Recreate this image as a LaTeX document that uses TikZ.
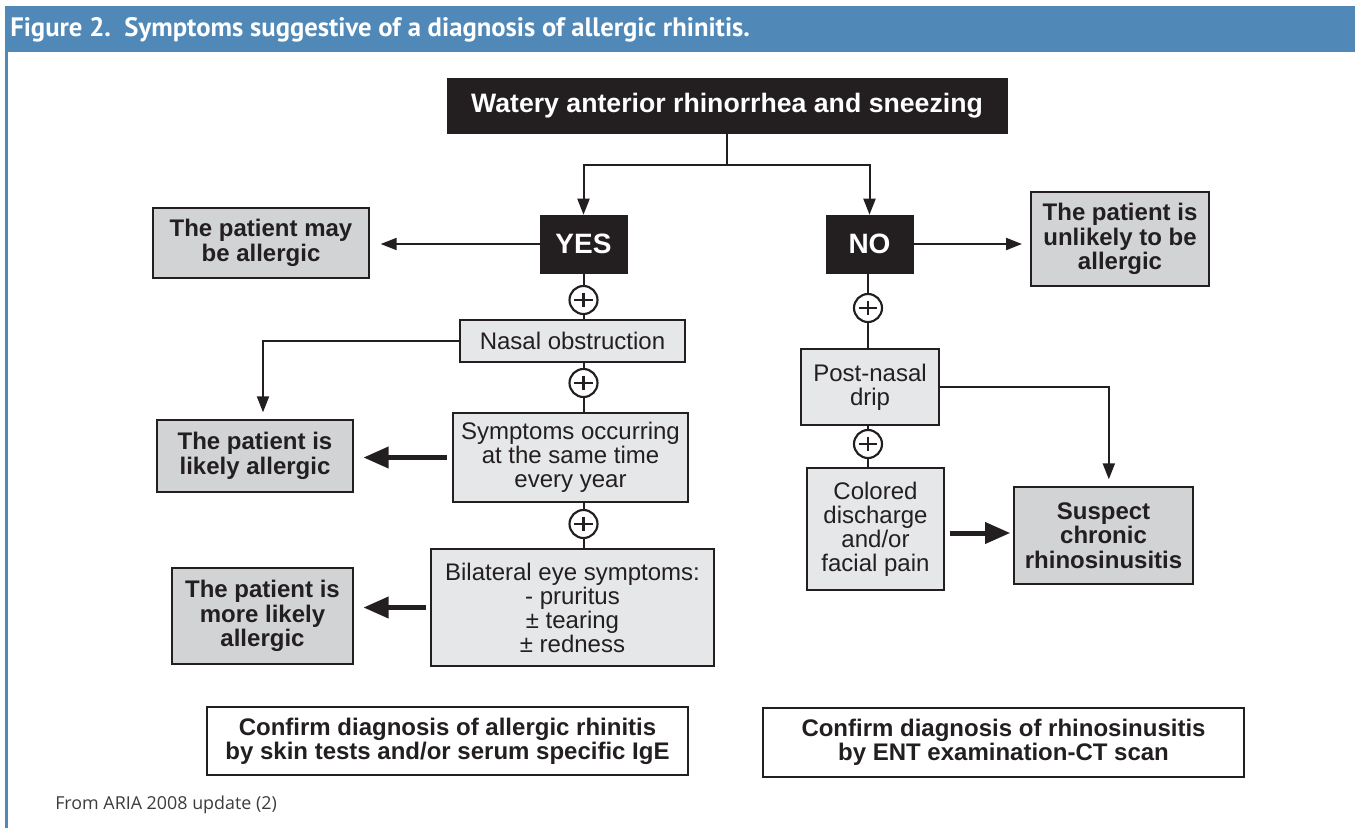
\documentclass[tikz,border=0pt]{standalone}
\usepackage{fontspec}
\setmainfont{Liberation Sans}
\newfontfamily\headfont{PT Sans}
\newfontfamily\notefont{Open Sans}
\usepackage{tikz}
\usetikzlibrary{arrows.meta,calc}
\definecolor{ink}     {HTML}{231F20}
\definecolor{band}    {HTML}{5088B8}
\definecolor{boxlight}{HTML}{E6E7E8}
\definecolor{boxgray} {HTML}{D1D3D4}
\definecolor{notegray}{HTML}{3C3C3C}

\tikzset{
  darkbox/.style={fill=ink, draw=ink, text=white, inner sep=0pt,
                  font=\bfseries\fontsize{21}{21}\selectfont},
  findbox/.style={fill=boxlight, draw=ink, line width=1.5pt, text=ink, align=center,
                  inner sep=0pt, font=\fontsize{18}{18}\selectfont},
  outbox/.style={fill=boxgray, draw=ink, line width=1.5pt, text=ink, align=center,
                 inner sep=0pt, font=\bfseries\fontsize{18}{18.4}\selectfont},
  confbox/.style={fill=white, draw=ink, line width=1.5pt, text=ink, align=center,
                  inner sep=0pt, font=\bfseries\fontsize{18}{18}\selectfont},
  pluscirc/.style={circle, draw=ink, fill=white, line width=1.6pt, minimum size=21pt,
                   inner sep=0pt,
                   path picture={\draw[ink, line width=1.7pt]
                     ($(path picture bounding box.center)+(-7pt,0)$) -- ++(14pt,0)
                     ($(path picture bounding box.center)+(0,5.5pt)$) -- ++(0,-11pt);}},
  link/.style={draw=ink, line width=1.5pt},
  arrowline/.style={link, -{Triangle[length=12pt,width=9pt]}},
  bigarrow/.style={draw=ink, line width=3.75pt, -{Triangle[length=19pt,width=15.5pt]}},
}

\begin{document}
\begin{tikzpicture}[x=0.75pt,y=-0.75pt]
  \useasboundingbox (0,0) rectangle (1355,828);

  % header band and frame
  \fill[band] (5,6) rectangle (1355,52);
  \draw[band, line width=1.9pt] (6.5,52) -- (6.5,828);
  \node[anchor=west, text=white, inner sep=0pt,
        font=\headfont\bfseries\fontsize{20}{20}\selectfont] (title) at (10,30)
    {Figure 2.\ \ Symptoms suggestive of a diagnosis of allergic rhinitis.};

  % main column
  \node[darkbox, minimum width=420pt, minimum height=41.25pt,
        font=\bfseries\fontsize{20}{20}\selectfont] (top) at (727,105.5)
    {Watery anterior rhinorrhea and sneezing};
  \node[darkbox, minimum width=65.25pt, minimum height=43.5pt] (yes) at (583.5,244) {YES};
  \node[darkbox, minimum width=65.25pt, minimum height=43.5pt] (no)  at (869.5,244) {NO};

  % outcomes
  \node[outbox, minimum width=162pt, minimum height=52.5pt] (may) at (261,243)
    {The patient may\\be allergic};
  \node[outbox, minimum width=133.5pt, minimum height=70.5pt] (unlikely) at (1120,239)
    {The patient is\\unlikely to be\\allergic};
  \node[outbox, minimum width=147pt, minimum height=54pt] (likely) at (255,456)
    {The patient is\\likely allergic};
  \node[outbox, minimum width=135.75pt, minimum height=72pt] (more) at (262.5,616)
    {The patient is\\more likely\\allergic};
  \node[outbox, minimum width=134.25pt, minimum height=72.75pt] (suspect) at (1103.5,535.5)
    {Suspect\\chronic\\rhinosinusitis};

  % symptoms
  \node[findbox, minimum width=168.75pt, minimum height=31.5pt] (nasal) at (572.5,341)
    {Nasal obstruction};
  \node[findbox, minimum width=176.25pt, minimum height=66.75pt] (symptoms) at (570.5,457.5)
    {Symptoms occurring\\at the same time\\every year};
  \node[findbox, minimum width=212.25pt, minimum height=87.75pt] (bilateral) at (572.5,607.5)
    {Bilateral eye symptoms:\\- pruritus\\± tearing\\± redness};
  \node[findbox, minimum width=103.5pt, minimum height=57pt] (post) at (870,387)
    {Post-nasal\\drip};
  \node[findbox, minimum width=102.75pt, minimum height=91.5pt] (colored) at (875.5,529)
    {Colored\\discharge\\and/or\\facial pain};

  % plus signs
  \node[pluscirc] (p1) at (yes.south |- 0,300) {};
  \node[pluscirc] (p2) at (yes.south |- 0,383) {};
  \node[pluscirc] (p3) at (yes.south |- 0,524) {};
  \node[pluscirc] (p4) at (868,308) {};
  \node[pluscirc] (p5) at (868,444) {};

  % confirmation
  \node[confbox, minimum width=360.75pt, minimum height=51pt] (confirmA) at (447.5,741)
    {Confirm diagnosis of allergic rhinitis\\by skin tests and/or serum specific IgE};
  \node[confbox, minimum width=360.75pt, minimum height=51.75pt] (confirmB) at (1003.5,742.5)
    {Confirm diagnosis of rhinosinusitis\\by ENT examination-CT scan};

  \node[anchor=west, inner sep=0pt, text=notegray,
        font=\notefont\fontsize{13.4}{13.4}\selectfont] (source) at (55,805)
    {From ARIA 2008 update (2)};

  % connectors
  \coordinate (split) at (top.south |- 0,165);
  \draw[link] (top.south) -- (split);
  \draw[arrowline] (split) -| (yes.north);
  \draw[arrowline] (split) -| (no.north);
  \draw[arrowline, shorten >=8pt] (yes.west) -- (yes.west -| may.east);
  \draw[arrowline, shorten >=6pt] (no.east) -- (no.east -| unlikely.west);

  \draw[link] (yes.south) -- (p1.north);
  \draw[link] (p1.south) -- (p1.south |- nasal.north);
  \draw[link] (p2.north |- nasal.south) -- (p2.north);
  \draw[link] (p2.south) -- (p2.south |- symptoms.north);
  \draw[link] (p3.north |- symptoms.south) -- (p3.north);
  \draw[link] (p3.south) -- (p3.south |- bilateral.north);
  \draw[arrowline, shorten >=5pt] (nasal.west) -| ([xshift=6pt]likely.north);
  \draw[bigarrow, shorten <=4pt, shorten >=7pt] (symptoms.west) -- (symptoms.west -| likely.east);
  \draw[bigarrow, shorten <=3pt, shorten >=7pt] (bilateral.west) -- (bilateral.west -| more.east);

  \draw[link] (no.south -| p4.north) -- (p4.north);
  \draw[link] (p4.south) -- (p4.south |- post.north);
  \draw[link] (p5.north |- post.south) -- (p5.north);
  \draw[link] (p5.south) -- (p5.south |- colored.north);
  \draw[arrowline, shorten >=5pt] (post.east) -| ([xshift=4pt]suspect.north);
  \draw[bigarrow, shorten <=4pt, shorten >=2pt] ([yshift=-3pt]colored.east) -- ([yshift=-3pt]colored.east -| suspect.west);
\end{tikzpicture}
\end{document}
